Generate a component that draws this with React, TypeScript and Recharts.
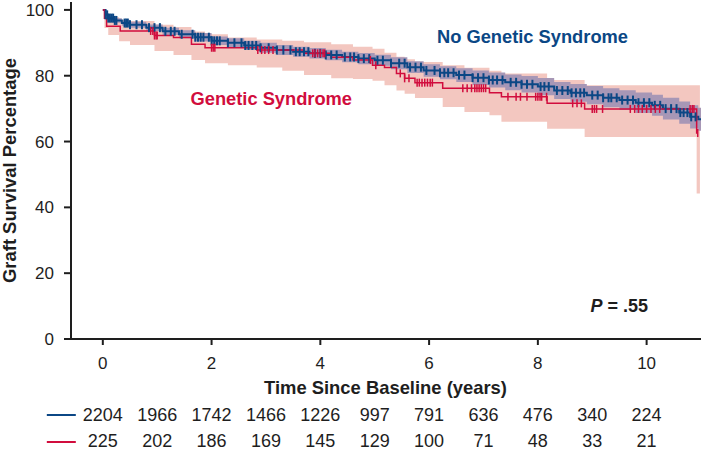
import React from 'react';
import { ComposedChart, Line, Area, Scatter, XAxis, YAxis } from 'recharts';

const FONT = '"Liberation Sans", Arial, Helvetica, sans-serif';
const BLUE = '#0b4785';
const RED = '#d10d3d';
const PINK = '#f3c7c0';
const BAND_BLUE = '#a797b6';
const AXIS = '#1e1e1e';

// No Genetic Syndrome: KM estimate and 95% CI
const blueT = [0, 0.05, 0.1, 0.2, 0.35, 0.5, 0.8, 1.1, 1.4, 1.7, 2.0, 2.3, 2.6, 2.9, 3.2, 3.5, 3.8, 4.1, 4.4, 4.7, 5.0, 5.3, 5.6, 5.9, 6.2, 6.5, 6.8, 7.1, 7.4, 7.7, 8.0, 8.3, 8.6, 8.9, 9.2, 9.5, 9.8, 10.1, 10.3, 10.6, 10.8, 10.95, 11.0];
const blueS = [100, 98.5, 97.5, 96.8, 96.0, 95.5, 94.6, 93.5, 92.6, 91.7, 90.6, 90.0, 89.2, 88.5, 87.8, 87.3, 86.8, 86.3, 85.7, 85.2, 84.7, 83.8, 82.6, 81.6, 80.9, 80.2, 79.4, 78.7, 78.0, 77.4, 76.7, 75.5, 74.8, 74.1, 73.3, 72.6, 71.8, 71.0, 70.0, 68.8, 67.5, 66.8, 66.8];
const blueLo = [100, 98.0, 96.9, 96.1, 95.2, 94.6, 93.6, 92.4, 91.4, 90.4, 89.3, 88.6, 87.8, 87.0, 86.3, 85.8, 85.2, 84.7, 84.1, 83.5, 83.0, 82.0, 80.8, 79.7, 78.9, 78.1, 77.2, 76.4, 75.6, 74.9, 74.1, 72.9, 72.1, 71.3, 70.4, 69.6, 68.7, 67.8, 66.7, 65.4, 64.0, 63.3, 63.3];
const blueHi = [100, 99.0, 98.1, 97.5, 96.8, 96.4, 95.6, 94.6, 93.8, 93.0, 91.9, 91.4, 90.6, 90.0, 89.3, 88.8, 88.4, 87.9, 87.3, 86.9, 86.4, 85.6, 84.4, 83.5, 82.9, 82.3, 81.6, 81.0, 80.4, 79.9, 79.3, 78.1, 77.5, 76.9, 76.2, 75.6, 74.9, 74.2, 73.3, 72.2, 71.0, 70.3, 70.3];

// Genetic Syndrome: KM estimate
const redT = [0, 0.03, 0.07, 0.32, 0.95, 1.3, 1.63, 1.88, 2.83, 3.7, 4.2, 4.6, 4.96, 5.18, 5.4, 5.55, 5.74, 6.25, 7.11, 7.33, 8.17, 8.86, 10.92, 10.94];
const redS = [100, 97.5, 95.0, 93.6, 92.2, 91.6, 89.6, 88.5, 87.8, 86.8, 85.6, 84.8, 83.2, 82.5, 80.7, 79.2, 77.9, 76.2, 74.8, 73.6, 71.6, 69.9, 62.6, 62.6];

// Genetic Syndrome: 95% CI
const pinkT = [0, 0.03, 0.1, 0.3, 0.5, 0.95, 1.3, 1.63, 1.88, 2.3, 2.83, 3.3, 3.7, 4.2, 4.6, 4.96, 5.18, 5.4, 5.55, 5.74, 6.25, 6.65, 7.11, 7.33, 8.17, 8.86, 10.92, 10.98];
const pinkLo = [100, 94.5, 92.4, 90.5, 89.3, 87.5, 86.3, 84.8, 83.8, 83.2, 82.5, 81.5, 80.2, 79.2, 79.0, 78.5, 77.1, 75.5, 74.5, 73.2, 70.5, 69.0, 68.0, 66.0, 63.9, 61.4, 44.2, 44.2];
const pinkHi = [100, 99.0, 97.8, 97.0, 96.6, 95.5, 94.8, 93.4, 92.6, 91.6, 91.0, 90.6, 90.2, 89.6, 88.8, 88.2, 87.0, 85.8, 85.0, 84.2, 83.2, 82.4, 81.5, 80.7, 78.7, 77.1, 77.1, 77.1];

// Censoring times
const blueCensor = [0.05, 0.08, 0.1, 0.13, 0.16, 0.19, 0.22, 0.25, 0.4, 0.43, 0.46, 0.5, 0.62, 0.72, 0.85, 0.95, 1.05, 1.15, 1.25, 1.32, 1.45, 1.65, 1.7, 1.75, 1.8, 1.85, 1.95, 2.0, 2.05, 2.1, 2.15, 2.3, 2.42, 2.55, 2.62, 2.68, 2.75, 2.82, 2.9, 3.05, 3.2, 3.32, 3.45, 3.55, 3.62, 3.7, 3.78, 3.9, 4.0, 4.1, 4.2, 4.3, 4.45, 4.55, 4.62, 4.7, 4.8, 4.9, 5.05, 5.15, 5.3, 5.45, 5.55, 5.65, 5.75, 5.85, 5.95, 6.1, 6.2, 6.28, 6.35, 6.45, 6.55, 6.65, 6.8, 6.9, 7.0, 7.1, 7.17, 7.25, 7.35, 7.5, 7.6, 7.7, 7.8, 7.9, 8.05, 8.12, 8.2, 8.35, 8.45, 8.55, 8.62, 8.7, 8.78, 8.85, 9.0, 9.1, 9.2, 9.3, 9.35, 9.45, 9.55, 9.65, 9.75, 9.85, 9.95, 10.05, 10.15, 10.25, 10.35, 10.45, 10.55, 10.62, 10.68, 10.75, 10.82, 10.9];
const redCensor = [0.88, 0.92, 0.95, 0.98, 1.0, 2.0, 2.03, 2.06, 2.85, 2.92, 2.98, 3.05, 3.13, 3.86, 3.9, 3.95, 4.0, 4.05, 4.08, 4.92, 5.02, 5.47, 5.55, 5.63, 5.78, 5.82, 5.87, 5.92, 5.97, 6.02, 6.06, 6.62, 6.7, 6.78, 6.84, 6.88, 6.92, 6.96, 7.0, 7.04, 7.45, 7.6, 7.68, 7.8, 7.96, 8.0, 8.04, 8.07, 8.16, 8.64, 8.72, 8.8, 9.0, 9.04, 9.08, 9.19, 9.7, 9.78, 9.85, 9.92, 10.0, 10.08, 10.16, 10.24, 10.8, 10.84, 10.87, 10.94];

// Number at risk
const riskYears = [0, 1, 2, 3, 4, 5, 6, 7, 8, 9, 10];
const riskNoGenetic = [2204, 1966, 1742, 1466, 1226, 997, 791, 636, 476, 340, 224];
const riskGenetic = [225, 202, 186, 169, 145, 129, 100, 71, 48, 33, 21];

const xLabelTicks = [0, 2, 4, 6, 8, 10];
const yTicks = [0, 20, 40, 60, 80, 100];

function stepAt(ts: number[], ss: number[], t: number) {
  let v = ss[0];
  for (let i = 0; i < ts.length; i++) if (ts[i] <= t) v = ss[i];
  return v;
}

const blueLine = blueT.map((t, i) => ({ t, s: blueS[i] }));
const blueBand = blueT.map((t, i) => ({ t, range: [blueLo[i], blueHi[i]] }));
const redLine = redT.map((t, i) => ({ t, s: redS[i] }));
const pinkBand = pinkT.map((t, i) => ({ t, range: [pinkLo[i], pinkHi[i]] }));
const blueMarks = blueCensor.map((t) => ({ t, s: stepAt(blueT, blueS, t) }));
const redMarks = redCensor.map((t) => ({ t, s: stepAt(redT, redS, t) }));

const BlueMark = (p: any) => (
  <line x1={p.cx} x2={p.cx} y1={p.cy - 4.5} y2={p.cy + 4.5} stroke={BLUE} strokeWidth={2} />
);
const RedMark = (p: any) => (
  <line x1={p.cx} x2={p.cx} y1={p.cy - 4} y2={p.cy + 4} stroke={RED} strokeWidth={1.5} />
);

const XTick = (props: any) => {
  const { x, y, payload, index } = props;
  const v = payload.value as number;
  const i = riskYears.indexOf(v);
  const labeled = xLabelTicks.includes(v);
  return (
    <g>
      {labeled && <line x1={x} x2={x} y1={y} y2={y + 6} stroke={AXIS} strokeWidth={2} />}
      {labeled && (
        <text x={x} y={y + 29.5} textAnchor="middle" fontSize={17} fontFamily={FONT} fill={AXIS}>
          {v}
        </text>
      )}
      <text x={x} y={y + 81.5} textAnchor="middle" fontSize={18} fontFamily={FONT} fill={AXIS}>
        {riskNoGenetic[i]}
      </text>
      <text x={x} y={y + 108} textAnchor="middle" fontSize={18} fontFamily={FONT} fill={AXIS}>
        {riskGenetic[i]}
      </text>
      {index === 0 && (
        <g>
          <line x1={x - 56} x2={x - 27} y1={y + 76} y2={y + 76} stroke={BLUE} strokeWidth={2} />
          <line x1={x - 56} x2={x - 27} y1={y + 103} y2={y + 103} stroke={RED} strokeWidth={2} />
        </g>
      )}
    </g>
  );
};

export default function App() {
  return (
    <div style={{ position: 'absolute', left: 0, top: 0, width: 703, height: 452, background: '#fff' }}>
      <ComposedChart width={703} height={452} margin={{ top: 2, right: 2, bottom: 0, left: 0 }}>
        <XAxis
          dataKey="t"
          type="number"
          domain={[-0.585, 11]}
          allowDataOverflow
          ticks={riskYears}
          interval={0}
          height={113}
          tickLine={false}
          tickSize={0}
          tickMargin={0}
          axisLine={{ stroke: AXIS, strokeWidth: 2 }}
          tick={<XTick />}
        />
        <YAxis
          type="number"
          domain={[0, 102.4]}
          allowDataOverflow
          ticks={yTicks}
          interval={0}
          width={71}
          tickSize={7}
          tickMargin={10}
          axisLine={{ stroke: AXIS, strokeWidth: 2 }}
          tickLine={{ stroke: AXIS, strokeWidth: 2 }}
          tick={{ fontSize: 17, fontFamily: FONT, fill: AXIS }}
        />
        <Area data={pinkBand} dataKey="range" type="stepAfter" fill={PINK} fillOpacity={1} stroke="none" isAnimationActive={false} />
        <Area data={blueBand} dataKey="range" type="stepAfter" fill={BAND_BLUE} fillOpacity={1} stroke="none" isAnimationActive={false} />
        <Line data={blueLine} dataKey="s" type="stepAfter" stroke={BLUE} strokeWidth={2} dot={false} isAnimationActive={false} />
        <Scatter data={blueMarks} dataKey="s" shape={BlueMark} isAnimationActive={false} />
        <Line data={redLine} dataKey="s" type="stepAfter" stroke={RED} strokeWidth={1.5} dot={false} isAnimationActive={false} />
        <Scatter data={redMarks} dataKey="s" shape={RedMark} isAnimationActive={false} />
      </ComposedChart>
      <svg width={703} height={452} style={{ position: 'absolute', left: 0, top: 0, pointerEvents: 'none' }}>
        <text x={15.5} y={170.5} transform="rotate(-90 15.5 170.5)" textAnchor="middle" fontSize={18.4} fontWeight="bold" fontFamily={FONT} fill={AXIS}>
          Graft Survival Percentage
        </text>
        <text x={385.5} y={394} textAnchor="middle" fontSize={18.4} fontWeight="bold" fontFamily={FONT} fill={AXIS}>
          Time Since Baseline (years)
        </text>
        <text x={437} y={43.3} fontSize={18.3} fontWeight="bold" fontFamily={FONT} fill={BLUE}>
          No Genetic Syndrome
        </text>
        <text x={190.5} y={105} fontSize={18.3} fontWeight="bold" fontFamily={FONT} fill={RED}>
          Genetic Syndrome
        </text>
        <text x={590.5} y={312} fontSize={18} fontWeight="bold" fontFamily={FONT} fill={AXIS}>
          <tspan fontStyle="italic">P</tspan> = .55
        </text>
      </svg>
    </div>
  );
}
